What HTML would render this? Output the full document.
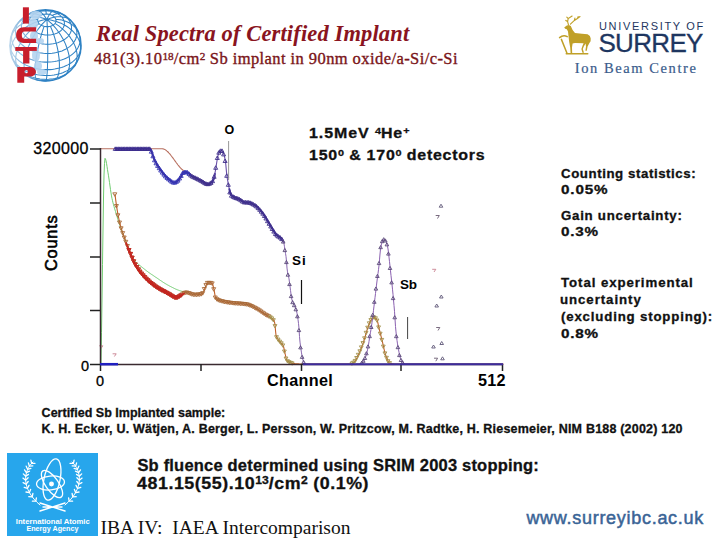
<!DOCTYPE html>
<html><head><meta charset="utf-8">
<style>
html,body{margin:0;padding:0;background:#fff;}
body{width:720px;height:540px;position:relative;overflow:hidden;font-family:"Liberation Sans",sans-serif;}
.a{position:absolute;white-space:nowrap;line-height:1;}
sup{font-size:68%;vertical-align:0;position:relative;top:-0.42em;letter-spacing:0;}
.hv{-webkit-text-stroke:0.3px currentColor;}
#t_url{-webkit-text-stroke:0.5px currentColor;}
#t_ibc{-webkit-text-stroke:0.2px currentColor;}
#t_sub{-webkit-text-stroke:0.35px currentColor;}
</style></head><body>
<!-- ICTP logo -->
<svg class="a" style="left:0;top:0" width="90" height="90" viewBox="0 0 90 90">
  <circle cx="45.5" cy="45.4" r="35.5" fill="none" stroke="#2f82c4" stroke-width="1.6"/>
  <path d="M45.8,80.9 L45.9,80.8 L46.1,80.5 L46.3,80.0 L46.4,79.4 L46.5,78.6 L46.7,77.6 L46.8,76.5 L46.9,75.2 L47.1,73.8 L47.2,72.2 L47.3,70.5 L47.4,68.7 L47.5,66.8 L47.5,64.8 L47.6,62.7 L47.7,60.4 L47.7,58.2 L47.7,55.8 L47.8,53.4 L47.8,51.0 L47.8,48.5 L47.8,46.1 L47.7,43.6 L47.7,41.1 L47.7,38.7 L47.6,36.3 L47.6,33.9 L47.5,31.6 L47.4,29.3 L47.3,27.2 L47.2,25.1 L47.1,23.1 L47.0,21.2 L46.9,19.5 M54.8,79.6 L55.5,79.3 L56.1,78.9 L56.6,78.3 L57.1,77.5 L57.6,76.7 L58.0,75.7 L58.4,74.6 L58.7,73.3 L58.9,72.0 L59.1,70.5 L59.3,69.0 L59.4,67.3 L59.4,65.6 L59.4,63.8 L59.3,61.9 L59.2,59.9 L59.0,57.9 L58.7,55.8 L58.4,53.7 L58.1,51.5 L57.7,49.3 L57.2,47.1 L56.7,44.9 L56.1,42.7 L55.5,40.5 L54.9,38.4 L54.2,36.2 L53.5,34.1 L52.8,32.0 L52.0,30.0 L51.2,28.1 L50.4,26.2 M64.8,75.2 L65.8,74.3 L66.6,73.3 L67.4,72.2 L68.1,70.9 L68.6,69.5 L69.1,68.0 L69.4,66.4 L69.6,64.7 L69.7,62.9 L69.7,61.0 L69.5,59.0 L69.3,57.0 L68.9,54.9 L68.4,52.8 L67.8,50.6 L67.1,48.4 L66.3,46.2 L65.4,43.9 L64.4,41.7 L63.3,39.5 L62.1,37.4 L60.8,35.2 L59.5,33.2 L58.0,31.2 L56.6,29.2 L55.0,27.3 L53.5,25.6 L51.9,23.9 L50.2,22.3 L48.5,20.8 L46.9,19.5 M73.8,66.8 L74.7,65.6 L75.4,64.2 L76.0,62.8 L76.5,61.3 L76.8,59.8 L77.0,58.2 L77.1,56.5 L77.1,54.8 L76.9,53.1 L76.6,51.3 L76.2,49.5 L75.7,47.7 L75.0,45.9 L74.2,44.1 L73.3,42.2 L72.3,40.4 L71.1,38.7 L69.9,36.9 L68.6,35.2 L67.1,33.5 L65.6,31.9 L64.0,30.3 L62.3,28.8 L60.6,27.3 L58.8,25.9 L56.9,24.6 L55.0,23.4 M80.6,50.3 L80.7,48.5 L80.7,46.6 L80.4,44.8 L80.0,43.0 L79.4,41.2 L78.7,39.4 L77.7,37.6 L76.7,35.9 L75.4,34.2 L74.1,32.6 L72.6,31.0 L70.9,29.5 L69.2,28.1 L67.3,26.8 L65.3,25.5 L63.2,24.4 L61.1,23.3 L58.8,22.4 L56.5,21.6 L54.1,20.9 L51.7,20.3 L49.3,19.8 L46.9,19.5 M79.1,33.8 L78.5,32.3 L77.7,30.9 L76.8,29.5 L75.8,28.2 L74.7,27.0 L73.5,25.8 L72.1,24.7 L70.6,23.7 L69.1,22.8 L67.4,22.0 L65.6,21.3 L63.8,20.7 L61.9,20.1 L59.9,19.7 L57.9,19.4 L55.8,19.2 M70.9,20.7 L69.8,19.7 L68.5,18.9 L67.2,18.2 L65.7,17.6 L64.1,17.2 L62.4,16.9 L60.7,16.7 L58.8,16.7 L57.0,16.8 L55.0,17.1 L53.0,17.5 L51.0,18.0 L48.9,18.7 L46.9,19.5 M62.3,14.1 L61.4,13.8 L60.5,13.5 L59.4,13.4 L58.4,13.4 L57.3,13.6 L56.1,13.9 L54.9,14.3 L53.6,14.8 L52.3,15.5 M53.2,10.8 L52.7,11.0 L52.2,11.3 L51.6,11.8 L51.0,12.4 L50.3,13.2 L49.7,14.2 L49.0,15.3 L48.3,16.5 L47.6,17.9 L46.9,19.5 M45.3,9.9 L45.5,10.1 L45.6,10.4 L45.8,10.9 L45.9,11.5 L46.1,12.2 L46.2,13.1 L46.3,14.1 M36.9,11.0 L37.6,10.9 L38.5,11.1 L39.3,11.4 L40.2,11.9 L41.1,12.5 L42.0,13.3 L43.0,14.2 L44.0,15.3 L44.9,16.6 L45.9,18.0 L46.9,19.5 M27.4,14.9 L28.4,14.4 L29.6,14.0 L30.8,13.7 L32.0,13.6 L33.4,13.6 L34.7,13.8 L36.1,14.0 L37.6,14.4 L39.1,14.9 L40.6,15.6 M17.7,23.3 L18.8,22.1 L20.1,21.0 L21.4,20.1 L22.9,19.2 L24.5,18.5 L26.2,17.9 L28.0,17.4 L29.9,17.1 L31.9,16.9 L33.9,16.9 L36.0,17.0 L38.1,17.2 L40.3,17.6 L42.4,18.1 L44.7,18.7 L46.9,19.5 M10.9,37.4 L11.4,35.9 L12.1,34.3 L12.9,32.8 L13.8,31.4 L14.8,30.0 L16.0,28.7 L17.3,27.4 L18.7,26.2 L20.2,25.1 L21.9,24.1 L23.6,23.2 L25.4,22.3 L27.3,21.6 L29.3,20.9 L31.3,20.4 L33.4,19.9 L35.5,19.6 L37.7,19.3 M11.6,56.0 L11.2,54.3 L11.0,52.5 L10.9,50.8 L11.0,49.0 L11.3,47.1 L11.7,45.3 L12.3,43.5 L13.0,41.6 L14.0,39.8 L15.0,38.0 L16.2,36.3 L17.6,34.6 L19.1,33.0 L20.7,31.4 L22.5,29.8 L24.3,28.4 L26.3,27.0 L28.3,25.8 L30.5,24.6 L32.7,23.5 L35.0,22.6 L37.3,21.7 L39.6,21.0 L42.0,20.3 L44.4,19.8 L46.9,19.5 M19.4,69.4 L18.5,68.4 L17.8,67.2 L17.1,66.0 L16.6,64.7 L16.2,63.3 L15.9,61.8 L15.7,60.2 L15.7,58.6 L15.8,57.0 L16.0,55.3 L16.3,53.5 L16.8,51.8 L17.3,50.0 L18.0,48.1 L18.8,46.3 L19.7,44.5 L20.7,42.6 L21.8,40.8 L23.0,39.0 L24.3,37.2 L25.7,35.5 L27.1,33.8 L28.7,32.1 L30.3,30.5 L31.9,29.0 L33.7,27.5 L35.4,26.1 L37.3,24.8 L39.1,23.6 M27.8,76.1 L27.0,75.4 L26.3,74.6 L25.7,73.6 L25.2,72.5 L24.8,71.2 L24.4,69.9 L24.2,68.4 L24.1,66.7 L24.1,65.0 L24.2,63.2 L24.4,61.3 L24.7,59.4 L25.1,57.3 L25.6,55.2 L26.2,53.1 L26.9,50.9 L27.7,48.7 L28.5,46.4 L29.5,44.2 L30.5,42.0 L31.6,39.8 L32.8,37.6 L34.0,35.4 L35.3,33.3 L36.7,31.3 L38.0,29.3 L39.5,27.4 L40.9,25.6 L42.4,23.9 L43.9,22.3 L45.4,20.8 L46.9,19.5 M37.3,79.9 L36.9,79.8 L36.5,79.5 L36.2,79.0 L35.9,78.4 L35.7,77.7 L35.4,76.8 L35.3,75.9 L35.1,74.7 L35.1,73.5 L35.0,72.2 L35.0,70.7 L35.1,69.2 L35.1,67.5 L35.3,65.8 L35.4,63.9 L35.7,62.0 L35.9,60.1 L36.2,58.0 L36.5,55.9 L36.9,53.8 L37.3,51.7 L37.7,49.5 L38.2,47.3 L38.7,45.0 L39.2,42.8 L39.8,40.6 L40.3,38.5 L40.9,36.3 L41.5,34.2 L42.2,32.1 L42.8,30.1 L43.5,28.2 L44.1,26.3 M45.8,80.9 L47.6,80.8 L49.3,80.7 L51.0,80.5 L52.7,80.2 M35.5,79.5 L37.2,79.9 L38.9,80.3 L40.6,80.5 L42.3,80.7 L44.1,80.9 L45.8,80.9 M46.4,79.4 L48.5,79.3 L50.7,79.1 L52.7,78.9 L54.8,78.5 L56.8,78.0 L58.7,77.5 L60.6,76.8 L62.4,76.1 L64.1,75.2 L65.8,74.3 L67.3,73.3 L68.7,72.2 L70.0,71.1 M19.0,69.1 L20.3,70.3 L21.6,71.5 L23.1,72.6 L24.6,73.6 L26.3,74.6 L28.1,75.5 L29.9,76.3 L31.8,77.0 L33.8,77.6 L35.8,78.2 L37.9,78.6 L40.0,79.0 L42.1,79.2 L44.3,79.3 L46.4,79.4 M46.9,75.5 L49.3,75.5 L51.7,75.3 L54.0,75.0 L56.3,74.6 L58.5,74.0 L60.7,73.4 L62.8,72.7 L64.8,71.8 L66.7,70.9 L68.5,69.9 L70.2,68.8 L71.8,67.6 L73.2,66.3 L74.5,65.0 L75.7,63.6 L76.7,62.2 L77.5,60.7 M11.8,56.4 L12.4,58.0 L13.1,59.6 L14.1,61.1 L15.2,62.6 L16.4,64.0 L17.8,65.4 L19.3,66.7 L20.9,68.0 L22.6,69.1 L24.5,70.2 L26.5,71.2 L28.5,72.1 L30.6,72.9 L32.8,73.6 L35.1,74.2 L37.4,74.7 L39.8,75.1 L42.1,75.3 L44.5,75.5 L46.9,75.5 M47.3,69.6 L49.8,69.6 L52.2,69.4 L54.7,69.1 L57.0,68.6 L59.3,68.1 L61.6,67.4 L63.7,66.7 L65.8,65.8 L67.8,64.9 L69.7,63.8 L71.4,62.7 L73.1,61.4 L74.5,60.1 L75.9,58.7 L77.1,57.3 L78.1,55.8 L79.0,54.2 L79.8,52.6 L80.3,51.0 L80.7,49.4 L80.9,47.7 M10.0,44.8 L10.2,46.5 L10.5,48.2 L10.9,49.9 L11.6,51.5 L12.4,53.1 L13.3,54.7 L14.5,56.3 L15.7,57.7 L17.2,59.2 L18.7,60.5 L20.4,61.8 L22.2,63.0 L24.1,64.1 L26.2,65.2 L28.3,66.1 L30.5,66.9 L32.8,67.7 L35.1,68.3 L37.5,68.8 L39.9,69.2 L42.4,69.4 L44.9,69.6 L47.3,69.6 M47.6,62.1 L50.0,62.0 L52.4,61.8 L54.7,61.5 L57.0,61.1 L59.2,60.6 L61.4,60.0 L63.5,59.3 L65.5,58.4 L67.4,57.5 L69.2,56.5 L70.9,55.4 L72.5,54.2 L73.9,52.9 L75.2,51.6 L76.4,50.2 L77.4,48.7 L78.2,47.2 L78.9,45.7 L79.5,44.1 L79.9,42.5 L80.1,40.9 L80.1,39.3 L80.0,37.6 L79.7,36.0 M12.8,31.7 L12.2,33.3 L11.8,34.9 L11.6,36.5 L11.6,38.1 L11.7,39.8 L12.0,41.4 L12.5,43.0 L13.1,44.6 L13.9,46.2 L14.8,47.7 L15.9,49.2 L17.1,50.6 L18.5,52.0 L20.0,53.3 L21.6,54.5 L23.4,55.7 L25.2,56.8 L27.2,57.8 L29.2,58.7 L31.3,59.5 L33.5,60.2 L35.8,60.8 L38.1,61.3 L40.5,61.7 L42.8,61.9 L45.2,62.1 L47.6,62.1 M47.8,53.4 L49.9,53.4 L52.0,53.2 L54.1,52.9 L56.2,52.6 L58.2,52.1 L60.1,51.5 L62.0,50.9 L63.8,50.1 L65.5,49.3 L67.1,48.4 L68.6,47.4 L70.0,46.3 L71.3,45.2 L72.5,44.0 L73.5,42.7 L74.4,41.4 L75.2,40.1 L75.8,38.7 L76.3,37.3 L76.7,35.9 L76.9,34.4 L76.9,32.9 L76.8,31.5 L76.5,30.0 L76.1,28.6 L75.6,27.1 L74.9,25.7 L74.0,24.4 L73.1,23.0 M19.9,20.9 L18.8,22.1 L17.9,23.4 L17.1,24.8 L16.5,26.2 L16.0,27.6 L15.7,29.0 L15.5,30.5 L15.5,31.9 L15.6,33.4 L15.8,34.9 L16.2,36.3 L16.8,37.7 L17.5,39.1 L18.3,40.5 L19.3,41.8 L20.4,43.1 L21.6,44.4 L23.0,45.5 L24.4,46.7 L26.0,47.7 L27.7,48.7 L29.4,49.6 L31.3,50.4 L33.2,51.1 L35.1,51.7 L37.2,52.2 L39.2,52.7 L41.3,53.0 L43.5,53.3 L45.6,53.4 L47.8,53.4 M47.8,44.2 L49.5,44.2 L51.2,44.0 L52.9,43.8 L54.6,43.5 L56.2,43.1 L57.8,42.7 L59.4,42.1 L60.8,41.5 L62.2,40.8 L63.6,40.1 L64.8,39.3 L65.9,38.4 L67.0,37.5 L68.0,36.5 L68.8,35.5 L69.5,34.4 L70.2,33.3 L70.7,32.2 L71.1,31.0 L71.4,29.9 L71.5,28.7 L71.5,27.5 L71.5,26.3 L71.2,25.1 L70.9,23.9 L70.5,22.7 L69.9,21.6 L69.2,20.5 L68.4,19.4 L67.5,18.3 L66.5,17.3 L65.4,16.4 L64.2,15.5 L62.9,14.6 L61.6,13.8 L60.1,13.1 L58.6,12.4 L57.1,11.8 M36.7,11.0 L35.1,11.5 L33.6,12.0 L32.1,12.6 L30.7,13.3 L29.4,14.0 L28.1,14.9 L27.0,15.7 L25.9,16.7 L25.0,17.6 L24.1,18.7 L23.4,19.7 L22.8,20.8 L22.2,21.9 L21.8,23.1 L21.6,24.3 L21.4,25.5 L21.4,26.6 L21.5,27.8 L21.7,29.0 L22.0,30.2 L22.5,31.4 L23.0,32.5 L23.7,33.7 L24.5,34.7 L25.4,35.8 L26.4,36.8 L27.5,37.8 L28.7,38.7 L30.0,39.5 L31.3,40.3 L32.8,41.0 L34.3,41.7 L35.8,42.3 L37.5,42.8 L39.1,43.2 L40.8,43.6 L42.5,43.9 L44.3,44.1 L46.0,44.2 L47.8,44.2 M47.6,35.1 L48.8,35.0 L50.0,34.9 L51.3,34.8 L52.4,34.6 L53.6,34.3 L54.7,34.0 L55.8,33.6 L56.8,33.2 L57.8,32.7 L58.8,32.2 L59.6,31.6 L60.5,31.0 L61.2,30.3 L61.9,29.6 L62.5,28.9 L63.0,28.1 L63.4,27.4 L63.8,26.6 L64.1,25.8 L64.3,24.9 L64.4,24.1 L64.4,23.2 L64.3,22.4 L64.2,21.6 L64.0,20.7 L63.6,19.9 L63.2,19.1 L62.8,18.3 L62.2,17.5 L61.6,16.8 L60.9,16.1 L60.1,15.4 L59.2,14.7 L58.3,14.1 L57.4,13.6 L56.3,13.1 L55.3,12.6 L54.2,12.2 L53.0,11.8 L51.9,11.5 L50.7,11.3 L49.5,11.1 L48.2,10.9 L47.0,10.8 L45.8,10.8 L44.5,10.9 L43.3,11.0 L42.1,11.1 L40.9,11.3 L39.8,11.6 L38.6,11.9 L37.6,12.3 L36.5,12.7 L35.5,13.2 L34.6,13.7 L33.7,14.3 L32.9,14.9 L32.2,15.6 L31.5,16.3 L30.9,17.0 L30.4,17.7 L29.9,18.5 L29.5,19.3 L29.3,20.1 L29.1,21.0 L29.0,21.8 L28.9,22.7 L29.0,23.5 L29.2,24.3 L29.4,25.2 L29.7,26.0 L30.1,26.8 L30.6,27.6 L31.2,28.4 L31.8,29.1 L32.5,29.8 L33.3,30.5 L34.1,31.2 L35.0,31.8 L36.0,32.3 L37.0,32.8 L38.1,33.3 L39.2,33.7 L40.3,34.1 L41.5,34.4 L42.7,34.6 L43.9,34.8 L45.1,35.0 L46.4,35.0 L47.6,35.1 M47.3,26.6 L47.9,26.6 L48.6,26.6 L49.2,26.5 L49.8,26.4 L50.4,26.2 L51.0,26.1 L51.5,25.9 L52.1,25.6 L52.6,25.4 L53.1,25.1 L53.5,24.8 L53.9,24.5 L54.3,24.2 L54.7,23.8 L55.0,23.4 L55.3,23.0 L55.5,22.6 L55.7,22.2 L55.8,21.8 L55.9,21.4 L56.0,20.9 L56.0,20.5 L56.0,20.1 L55.9,19.6 L55.8,19.2 L55.6,18.8 L55.4,18.4 L55.1,17.9 L54.8,17.5 L54.5,17.2 L54.1,16.8 L53.7,16.4 L53.3,16.1 L52.8,15.8 L52.3,15.5 L51.8,15.2 L51.3,15.0 L50.7,14.8 L50.1,14.6 L49.5,14.4 L48.9,14.3 L48.3,14.2 L47.6,14.1 L47.0,14.1 L46.3,14.1 L45.7,14.1 L45.1,14.2 L44.4,14.2 L43.8,14.3 L43.2,14.5 L42.7,14.6 L42.1,14.8 L41.6,15.1 L41.0,15.3 L40.6,15.6 L40.1,15.9 L39.7,16.2 L39.3,16.5 L38.9,16.9 L38.6,17.3 L38.4,17.7 L38.1,18.1 L37.9,18.5 L37.8,18.9 L37.7,19.3 L37.6,19.8 L37.6,20.2 L37.7,20.6 L37.7,21.1 L37.9,21.5 L38.0,21.9 L38.2,22.4 L38.5,22.8 L38.8,23.2 L39.1,23.6 L39.5,23.9 L39.9,24.3 L40.3,24.6 L40.8,24.9 L41.3,25.2 L41.8,25.5 L42.4,25.7 L42.9,25.9 L43.5,26.1 L44.1,26.3 L44.7,26.4 L45.4,26.5 L46.0,26.6 L46.6,26.6 L47.3,26.6" fill="none" stroke="#2f82c4" stroke-width="1.05"/>
  <defs><linearGradient id="fadeL" x1="0" x2="1" y1="0" y2="0"><stop offset="0" stop-color="#fff" stop-opacity="0.7"/><stop offset="1" stop-color="#fff" stop-opacity="0"/></linearGradient></defs>
  <rect x="8" y="8" width="34" height="76" fill="url(#fadeL)"/>
  <g fill="#b4d4f0" opacity="0.9">
    <ellipse cx="36" cy="15" rx="6" ry="4"/>
    <ellipse cx="33" cy="24" rx="5" ry="6"/>
    <ellipse cx="34" cy="36" rx="4" ry="5"/>
    <ellipse cx="40" cy="41" rx="4" ry="3"/>
    <ellipse cx="36" cy="55" rx="4" ry="7"/>
    <ellipse cx="38" cy="66" rx="4" ry="5"/>
    <ellipse cx="42" cy="72" rx="5" ry="3"/>
  </g>
  <g fill="#c81e2c">
    <rect x="22.9" y="7.3" width="6" height="16.3"/>
    <path d="M36.1,27.3 H23.5 C19.3,27.3 16.1,30.5 16.1,35.1 C16.1,39.7 19.3,42.9 23.5,42.9 H36.1 V38.8 H24.5 C22.6,38.8 21.8,37.2 21.8,35.1 C21.8,33 22.6,31.4 24.5,31.4 H36.1 Z"/>
    <rect x="15.3" y="47" width="21.5" height="3.9"/>
    <rect x="23.1" y="47" width="6.3" height="16.5"/>
    <path d="M17.3,66.9 H29.5 C33.3,66.9 35.9,68.9 35.9,71.8 C35.9,74.7 33.3,76.6 29.5,76.6 H24.2 V82.7 H17.3 Z M26.2,69.9 A1.7,1.7 0 1 0 26.21,69.9 Z" fill-rule="evenodd"/>
  </g>
</svg>

<!-- Surrey logo -->
<svg class="a" style="left:555px;top:10px" width="40" height="50" viewBox="555 10 40 50">
  <path d="M564.2,27.6 L566.8,25.6 L568.9,25 L570.8,26 L572.6,30 L575,33 L582,33.8 L587.6,34.2 L589.9,35.9 L590.7,38.5 L590.6,41.2 L589.4,43 L587.6,46.5 L586.8,50.8 L585.4,50.8 L586,46.6 L585.6,43.6 L583.8,46.6 L582.8,48.9 L584,52.8 L582.4,52.8 L581.4,49 L582.6,45.4 L583.6,43.2 L575,43 L572.6,43.4 L572,47.6 L572.2,53 L570.6,53 L570.2,47.6 L569.2,42 L568.6,37 L568,31.4 L566.8,29.2 L565.2,28.8 Z" fill="#c0a028"/>
  <g fill="none" stroke="#c0a028" stroke-width="1.15" stroke-linecap="round">
    <path d="M568.4,24.6 L567.6,21.6 L568.2,18.6 L572.1,16 M567.6,21.6 L565.8,20.4 M568.2,18.6 L566.8,17.2 M570.4,24.2 L574.4,20.4 L577.4,18.6 L580,16.5 M574.4,20.4 L574.9,18.1 M577.4,18.6 L578.1,16.6"/>
    <path d="M559.6,37.6 Q563.3,34.4 567.2,36.6" stroke-width="1.6"/>
    <path d="M561.4,39.4 L567,53.2" stroke-width="1.5"/>
    <path d="M566.2,53.7 L587.8,53.7" stroke-width="1.4"/>
  </g>
</svg>

<!-- Chart -->
<svg class="a" style="left:0;top:0" width="720" height="540" viewBox="0 0 720 540">
  <g fill="none" stroke-linejoin="round" stroke-linecap="round">
    <path d="M100.5,148.8 L101.0,148.8 L101.5,148.8 L102.0,148.8 L102.5,148.8 L103.0,148.8 L103.5,148.8 L104.0,148.8 L104.5,148.8 L105.0,148.8 L105.5,148.8 L106.0,148.8 L106.5,148.8 L107.0,148.8 L107.5,148.8 L108.0,148.8 L108.5,148.8 L109.0,148.8 L109.5,148.8 L110.0,148.8 L110.5,148.8 L111.0,148.8 L111.5,148.8 L112.0,148.8 L112.5,148.8 L113.0,148.8 L113.5,148.8 L114.0,148.8 L114.5,148.8 L115.0,148.8 L115.5,148.8 L116.0,148.8 L116.5,148.8 L117.0,148.8 L117.5,148.8 L118.0,148.8 L118.5,148.8 L119.0,148.8 L119.5,148.8 L120.0,148.8 L120.5,148.8 L121.0,148.8 L121.5,148.8 L122.0,148.8 L122.5,148.8 L123.0,148.8 L123.5,148.8 L124.0,148.8 L124.5,148.8 L125.0,148.8 L125.5,148.8 L126.0,148.8 L126.5,148.8 L127.0,148.8 L127.5,148.8 L128.0,148.8 L128.5,148.8 L129.0,148.8 L129.5,148.8 L130.0,148.8 L130.5,148.8 L131.0,148.8 L131.5,148.8 L132.0,148.8 L132.5,148.8 L133.0,148.8 L133.5,148.8 L134.0,148.8 L134.5,148.8 L135.0,148.8 L135.5,148.8 L136.0,148.8 L136.5,148.8 L137.0,148.8 L137.5,148.8 L138.0,148.8 L138.5,148.8 L139.0,148.8 L139.5,148.8 L140.0,148.8 L140.5,148.8 L141.0,148.8 L141.5,148.8 L142.0,148.8 L142.5,148.8 L143.0,148.8 L143.5,148.8 L144.0,148.8 L144.5,148.8 L145.0,148.8 L145.5,148.8 L146.0,148.8 L146.5,148.8 L147.0,148.8 L147.5,148.8 L148.0,148.8 L148.5,148.8 L149.0,148.8 L149.5,148.8 L150.0,148.8 L150.5,148.8 L151.0,148.8 L151.5,148.8 L152.0,148.8 L152.5,148.8 L153.0,148.8 L153.5,148.8 L154.0,148.8 L154.5,148.8 L155.0,148.8 L155.5,148.8 L156.0,148.8 L156.5,148.8 L157.0,148.8 L157.5,148.8 L158.0,148.8 L158.5,148.8 L159.0,148.8 L159.5,148.8 L160.0,148.8 L160.5,148.8 L161.0,148.8 L161.5,148.8 L162.0,148.8 L162.5,148.8 L163.0,148.9 L163.5,149.0 L164.0,149.1 L164.5,149.4 L165.0,149.6 L165.5,149.9 L166.0,150.3 L166.5,150.6 L167.0,151.1 L167.5,151.5 L168.0,152.0 L168.5,152.5 L169.0,153.1 L169.5,153.6 L170.0,154.2 L170.5,154.8 L171.0,155.5 L171.5,156.1 L172.0,156.8 L172.5,157.4 L173.0,158.1 L173.5,158.8 L174.0,159.5 L174.5,160.2 L175.0,160.9 L175.5,161.6 L176.0,162.3 L176.5,163.0 L177.0,163.6 L177.5,164.3 L178.0,165.0 L178.5,165.6 L179.0,166.2 L179.5,166.8 L180.0,167.4 L180.5,167.9 L181.0,168.5 L181.5,169.0 L182.0,169.4 L182.5,169.8 L183.0,170.2 L183.5,170.6 L184.0,170.9 L184.5,171.2 L185.0,171.5 L185.5,171.7 L186.0,172.0" stroke="#b87060" stroke-width="1.1"/>
    <path d="M101.0,364.0 L101.5,332.7 L102.0,300.0 L102.5,264.3 L103.0,230.0 L103.5,198.0 L104.0,175.0 L104.5,163.4 L105.0,158.3 L105.5,159.0 L106.0,160.7 L106.5,163.3 L107.0,166.4 L107.5,169.7 L108.0,172.8 L108.5,175.8 L109.0,179.0 L109.5,182.5 L110.0,186.0 L110.5,189.6 L111.0,192.9 L111.5,195.9 L112.0,198.5 L112.5,200.7 L113.0,202.8 L113.5,204.7 L114.0,206.5 L114.5,208.2 L115.0,209.9 L115.5,211.5 L116.0,213.2 L116.5,214.8 L117.0,216.4 L117.5,218.1 L118.0,219.7 L118.5,221.2 L119.0,222.8 L119.5,224.3 L120.0,225.8 L120.5,227.3 L121.0,228.7 L121.5,230.1 L122.0,231.5 L122.5,232.9 L123.0,234.2 L123.5,235.5 L124.0,236.7 L124.5,237.9 L125.0,239.2 L125.5,240.4 L126.0,241.6 L126.5,242.8 L127.0,244.0 L127.5,245.2 L128.0,246.5 L128.5,247.7 L129.0,249.1 L129.5,250.5 L130.0,252.0 L130.5,253.5 L131.0,254.9 L131.5,256.1 L132.0,257.0 L132.5,257.8 L133.0,258.5 L133.5,259.2 L134.0,259.8 L134.5,260.4 L135.0,261.0 L135.5,261.6 L136.0,262.1 L136.5,262.6 L137.0,263.1 L137.5,263.5 L138.0,264.0 L138.5,264.4 L139.0,264.8 L139.5,265.2 L140.0,265.6 L140.5,266.0 L141.0,266.4 L141.5,266.8 L142.0,267.2 L142.5,267.6 L143.0,268.0 L143.5,268.4 L144.0,268.8 L144.5,269.2 L145.0,269.6 L145.5,270.0 L146.0,270.4 L146.5,270.8 L147.0,271.2 L147.5,271.5 L148.0,271.9 L148.5,272.3 L149.0,272.6 L149.5,273.0 L150.0,273.3 L150.5,273.7 L151.0,274.0 L151.5,274.4 L152.0,274.7 L152.5,275.0 L153.0,275.4 L153.5,275.7 L154.0,276.1 L154.5,276.4 L155.0,276.7 L155.5,277.1 L156.0,277.4 L156.5,277.7 L157.0,278.1 L157.5,278.4 L158.0,278.8 L158.5,279.1 L159.0,279.5 L159.5,279.8 L160.0,280.1 L160.5,280.5 L161.0,280.8 L161.5,281.1 L162.0,281.5 L162.5,281.8 L163.0,282.1 L163.5,282.5 L164.0,282.8 L164.5,283.1 L165.0,283.4 L165.5,283.7 L166.0,284.0 L166.5,284.3 L167.0,284.6 L167.5,284.9 L168.0,285.2 L168.5,285.4 L169.0,285.7 L169.5,286.0 L170.0,286.2 L170.5,286.5 L171.0,286.7 L171.5,287.0 L172.0,287.2 L172.5,287.5 L173.0,287.8 L173.5,288.0 L174.0,288.2 L174.5,288.5 L175.0,288.7 L175.5,289.0 L176.0,289.2 L176.5,289.4 L177.0,289.6 L177.5,289.8 L178.0,290.0 L178.5,290.2 L179.0,290.4 L179.5,290.6 L180.0,290.7 L180.5,290.9 L181.0,291.0 L181.5,291.2 L182.0,291.3 L182.5,291.4 L183.0,291.5 L183.5,291.6 L184.0,291.7 L184.5,291.8 L185.0,291.9 L185.5,291.9 L186.0,292.0" stroke="#70cc70" stroke-width="1"/>
    <path d="M115.0,194.4 L115.5,198.4 L116.0,202.1 L116.5,205.6 L117.0,208.8 L117.5,211.9 L118.0,214.7 L118.5,217.2 L119.0,219.5 L119.5,221.7 L120.0,223.7 L120.5,225.7 L121.0,227.5 L121.5,229.1 L122.0,230.7 L122.5,232.2 L123.0,233.7 L123.5,235.1 L124.0,236.4 L124.5,237.8 L125.0,239.2 L125.5,240.6 L126.0,241.9 L126.5,243.3 L127.0,244.6 L127.5,245.9 L128.0,247.2 L128.5,248.5 L129.0,249.8 L129.5,251.0 L130.0,252.2 L130.5,253.5 L131.0,254.7 L131.5,255.9 L132.0,257.1 L132.5,258.3 L133.0,259.5 L133.5,260.6 L134.0,261.7 L134.5,262.8 L135.0,263.7 L135.5,264.7 L136.0,265.5 L136.5,266.3 L137.0,267.1 L137.5,267.9 L138.0,268.7 L138.5,269.4 L139.0,270.1 L139.5,270.8 L140.0,271.5 L140.5,272.2 L141.0,272.8 L141.5,273.4 L142.0,274.0 L142.5,274.6 L143.0,275.2 L143.5,275.8 L144.0,276.3 L144.5,276.9 L145.0,277.4 L145.5,277.9 L146.0,278.4 L146.5,278.9 L147.0,279.4 L147.5,279.9 L148.0,280.3 L148.5,280.8 L149.0,281.3 L149.5,281.7 L150.0,282.1 L150.5,282.5 L151.0,283.0 L151.5,283.4 L152.0,283.8 L152.5,284.2 L153.0,284.5 L153.5,284.9 L154.0,285.3 L154.5,285.7 L155.0,286.0 L155.5,286.4 L156.0,286.7 L156.5,287.0 L157.0,287.4 L157.5,287.7 L158.0,288.0 L158.5,288.3 L159.0,288.6 L159.5,288.9 L160.0,289.2 L160.5,289.5 L161.0,289.8 L161.5,290.0 L162.0,290.3 L162.5,290.6 L163.0,290.9 L163.5,291.1 L164.0,291.4 L164.5,291.7 L165.0,291.9 L165.5,292.2 L166.0,292.4 L166.5,292.7 L167.0,293.0 L167.5,293.2 L168.0,293.5 L168.5,293.7 L169.0,294.0 L169.5,294.3 L170.0,294.6 L170.5,294.9 L171.0,295.2 L171.5,295.6 L172.0,295.9 L172.5,296.2 L173.0,296.6 L173.5,296.8 L174.0,297.1 L174.5,297.3 L175.0,297.5 L175.5,297.7 L176.0,297.8 L176.5,297.8 L177.0,297.7 L177.5,297.6 L178.0,297.3 L178.5,297.1 L179.0,296.7 L179.5,296.4 L180.0,296.1 L180.5,295.8 L181.0,295.5 L181.5,295.2 L182.0,294.8 L182.5,294.4 L183.0,294.0 L183.5,293.6 L184.0,293.3 L184.5,293.0 L185.0,292.8 L185.5,292.7 L186.0,292.6 L186.5,292.6 L187.0,292.7 L187.5,292.8 L188.0,292.9 L188.5,293.0 L189.0,293.2 L189.5,293.4 L190.0,293.6 L190.5,293.7 L191.0,293.9 L191.5,294.1 L192.0,294.3 L192.5,294.4 L193.0,294.6 L193.5,294.7 L194.0,294.7 L194.5,294.8 L195.0,294.8 L195.5,294.8 L196.0,294.8 L196.5,294.8 L197.0,294.7 L197.5,294.7 L198.0,294.7 L198.5,294.6 L199.0,294.6 L199.5,294.5 L200.0,294.4 L200.5,294.3 L201.0,294.3 L201.5,294.2 L202.0,294.0 L202.5,293.8 L203.0,293.1 L203.5,291.9 L204.0,290.6 L204.5,289.1 L205.0,287.8 L205.5,286.7 L206.0,285.4 L206.5,284.2 L207.0,283.3 L207.5,283.0 L208.0,283.0 L208.5,283.0 L209.0,283.0 L209.5,283.0 L210.0,283.0 L210.5,283.0 L211.0,283.0 L211.5,283.0 L212.0,283.0 L212.5,283.8 L213.0,285.5 L213.5,287.5 L214.0,289.6 L214.5,292.3 L215.0,295.4 L215.5,297.6 L216.0,298.3 L216.5,298.8 L217.0,299.3 L217.5,299.6 L218.0,299.9 L218.5,300.2 L219.0,300.4 L219.5,300.5 L220.0,300.7 L220.5,300.9 L221.0,301.0 L221.5,301.2 L222.0,301.3 L222.5,301.4 L223.0,301.5 L223.5,301.7 L224.0,301.8 L224.5,301.9 L225.0,302.0 L225.5,302.1 L226.0,302.2 L226.5,302.2 L227.0,302.3 L227.5,302.4 L228.0,302.5 L228.5,302.5 L229.0,302.6 L229.5,302.7 L230.0,302.8 L230.5,302.8 L231.0,302.9 L231.5,302.9 L232.0,303.0 L232.5,303.1 L233.0,303.1 L233.5,303.2 L234.0,303.2 L234.5,303.3 L235.0,303.3 L235.5,303.4 L236.0,303.4 L236.5,303.4 L237.0,303.5 L237.5,303.5 L238.0,303.5 L238.5,303.6 L239.0,303.6 L239.5,303.7 L240.0,303.7 L240.5,303.7 L241.0,303.8 L241.5,303.8 L242.0,303.8 L242.5,303.9 L243.0,303.9 L243.5,304.0 L244.0,304.0 L244.5,304.1 L245.0,304.2 L245.5,304.2 L246.0,304.3 L246.5,304.4 L247.0,304.5 L247.5,304.6 L248.0,304.7 L248.5,304.8 L249.0,305.0 L249.5,305.2 L250.0,305.4 L250.5,305.6 L251.0,305.8 L251.5,306.0 L252.0,306.3 L252.5,306.5 L253.0,306.8 L253.5,307.0 L254.0,307.3 L254.5,307.6 L255.0,307.8 L255.5,308.1 L256.0,308.4 L256.5,308.6 L257.0,308.9 L257.5,309.2 L258.0,309.5 L258.5,309.8 L259.0,310.1 L259.5,310.4 L260.0,310.7 L260.5,311.1 L261.0,311.4 L261.5,311.8 L262.0,312.1 L262.5,312.5 L263.0,312.8 L263.5,313.2 L264.0,313.5 L264.5,313.9 L265.0,314.2 L265.5,314.5 L266.0,314.8 L266.5,315.1 L267.0,315.4 L267.5,315.6 L268.0,315.9 L268.5,316.1 L269.0,316.4 L269.5,316.7 L270.0,317.0 L270.5,317.3 L271.0,317.6 L271.5,318.0 L272.0,318.4 L272.5,318.9 L273.0,319.4 L273.5,320.1 L274.0,320.9 L274.5,322.1 L275.0,324.3 L275.5,330.5 L276.0,335.2 L276.5,336.6 L277.0,337.7 L277.5,338.6 L278.0,339.3 L278.5,339.8 L279.0,340.4 L279.5,341.1 L280.0,341.7 L280.5,342.3 L281.0,342.8 L281.5,343.3 L282.0,343.9 L282.5,344.6 L283.0,345.4 L283.5,346.5 L284.0,348.5 L284.5,351.0 L285.0,353.3 L285.5,355.5 L286.0,357.9 L286.5,359.7 L287.0,360.6 L287.5,361.0 L288.0,361.4 L288.5,361.8 L289.0,362.1 L289.5,362.3 L290.0,362.6 L290.5,362.8 L291.0,363.0 L291.5,363.1 L292.0,363.3 L292.5,363.4 L293.0,363.5 L293.5,363.5 L294.0,363.6 L294.5,363.6 L295.0,363.7 L295.5,363.7 L296.0,363.8 L296.5,363.8 L297.0,363.8 L297.5,363.9 L298.0,363.9 L298.5,363.9 L299.0,364.0 L299.5,364.0 L300.0,364.0 L300.5,364.0 L301.0,364.0 L301.5,364.0 L302.0,364.0 L302.5,364.0 L303.0,364.0 L303.5,364.0 L304.0,364.0 L304.5,364.0 L305.0,364.0 L305.5,364.0 L306.0,364.0 L306.5,364.0 L307.0,364.0 L307.5,364.0 L308.0,364.0 L308.5,364.0 L309.0,364.0 L309.5,364.0 L310.0,364.0 L310.5,364.0 L311.0,364.0 L311.5,364.0 L312.0,364.0 L312.5,364.0 L313.0,364.0 L313.5,364.0 L314.0,364.0 L314.5,364.0 L315.0,364.0 L315.5,364.0 L316.0,364.0 L316.5,364.0 L317.0,364.0 L317.5,364.0 L318.0,364.0 L318.5,364.0 L319.0,364.0 L319.5,364.0 L320.0,364.0 L320.5,364.0 L321.0,364.0 L321.5,364.0 L322.0,364.0 L322.5,364.0 L323.0,364.0 L323.5,364.0 L324.0,364.0 L324.5,364.0 L325.0,364.0 L325.5,364.0 L326.0,364.0 L326.5,364.0 L327.0,364.0 L327.5,364.0 L328.0,364.0 L328.5,364.0 L329.0,364.0 L329.5,364.0 L330.0,364.0 L330.5,364.0 L331.0,364.0 L331.5,364.0 L332.0,364.0 L332.5,364.0 L333.0,364.0 L333.5,364.0 L334.0,364.0 L334.5,364.0 L335.0,364.0 L335.5,364.0 L336.0,364.0 L336.5,364.0 L337.0,364.0 L337.5,364.0 L338.0,364.0 L338.5,364.0 L339.0,364.0 L339.5,364.0 L340.0,364.0 L340.5,364.0 L341.0,364.0 L341.5,364.0 L342.0,364.0 L342.5,364.0 L343.0,364.0 L343.5,364.0 L344.0,364.0 L344.5,364.0 L345.0,364.0 L345.5,364.0 L346.0,364.0 L346.5,364.0 L347.0,364.0 L347.5,364.0 L348.0,364.0 L348.5,364.0 L349.0,364.0 L349.5,364.0 L350.0,364.0 L350.5,364.0 L351.0,363.9 L351.5,363.7 L352.0,363.5 L352.5,363.3 L353.0,363.0 L353.5,362.7 L354.0,362.4 L354.5,362.0 L355.0,361.3 L355.5,360.6 L356.0,359.7 L356.5,358.7 L357.0,357.7 L357.5,356.6 L358.0,355.6 L358.5,354.6 L359.0,353.5 L359.5,352.4 L360.0,351.2 L360.5,350.0 L361.0,348.8 L361.5,347.5 L362.0,346.1 L362.5,344.8 L363.0,343.4 L363.5,342.0 L364.0,340.5 L364.5,338.9 L365.0,337.2 L365.5,335.4 L366.0,333.7 L366.5,331.9 L367.0,330.2 L367.5,328.7 L368.0,327.2 L368.5,325.8 L369.0,324.4 L369.5,323.0 L370.0,321.8 L370.5,320.8 L371.0,320.0 L371.5,319.4 L372.0,318.8 L372.5,318.2 L373.0,317.8 L373.5,317.5 L374.0,317.4 L374.5,317.5 L375.0,317.7 L375.5,318.1 L376.0,318.7 L376.5,319.3 L377.0,320.0 L377.5,321.4 L378.0,323.5 L378.5,326.0 L379.0,328.2 L379.5,330.2 L380.0,332.2 L380.5,334.2 L381.0,336.1 L381.5,338.1 L382.0,340.1 L382.5,342.1 L383.0,344.3 L383.5,346.5 L384.0,348.8 L384.5,351.0 L385.0,353.0 L385.5,354.8 L386.0,356.1 L386.5,357.4 L387.0,358.6 L387.5,359.7 L388.0,360.8 L388.5,361.7 L389.0,362.4 L389.5,362.9 L390.0,363.2 L390.5,363.3 L391.0,363.5 L391.5,363.6 L392.0,363.7 L392.5,363.8 L393.0,363.9 L393.5,363.9 L394.0,364.0 L394.5,364.0 L395.0,364.0 L395.5,364.0 L396.0,364.0 L396.5,364.0 L397.0,364.0 L397.5,364.0 L398.0,364.0 L398.5,364.0 L399.0,364.0 L399.5,364.0 L400.0,364.0 L400.5,364.0 L401.0,364.0 L401.5,364.0 L402.0,364.0 L402.5,364.0 L403.0,364.0 L403.5,364.0 L404.0,364.0 L404.5,364.0 L405.0,364.0 L405.5,364.0 L406.0,364.0 L406.5,364.0 L407.0,364.0 L407.5,364.0 L408.0,364.0 L408.5,364.0 L409.0,364.0 L409.5,364.0 L410.0,364.0 L410.5,364.0 L411.0,364.0 L411.5,364.0 L412.0,364.0 L412.5,364.0 L413.0,364.0 L413.5,364.0 L414.0,364.0 L414.5,364.0 L415.0,364.0 L415.5,364.0 L416.0,364.0 L416.5,364.0 L417.0,364.0 L417.5,364.0 L418.0,364.0 L418.5,364.0 L419.0,364.0 L419.5,364.0 L420.0,364.0 L420.5,364.0 L421.0,364.0 L421.5,364.0 L422.0,364.0 L422.5,364.0 L423.0,364.0 L423.5,364.0 L424.0,364.0 L424.5,364.0 L425.0,364.0 L425.5,364.0 L426.0,364.0 L426.5,364.0 L427.0,364.0 L427.5,364.0 L428.0,364.0 L428.5,364.0 L429.0,364.0 L429.5,364.0 L430.0,364.0 L430.5,364.0 L431.0,364.0 L431.5,364.0 L432.0,364.0 L432.5,364.0 L433.0,364.0 L433.5,364.0 L434.0,364.0 L434.5,364.0 L435.0,364.0 L435.5,364.0 L436.0,364.0 L436.5,364.0 L437.0,364.0 L437.5,364.0 L438.0,364.0 L438.5,364.0 L439.0,364.0 L439.5,364.0 L440.0,364.0 L440.5,364.0 L441.0,364.0 L441.5,364.0 L442.0,364.0 L442.5,364.0 L443.0,364.0 L443.5,364.0 L444.0,364.0 L444.5,364.0 L445.0,364.0 L445.5,364.0 L446.0,364.0 L446.5,364.0 L447.0,364.0 L447.5,364.0 L448.0,364.0 L448.5,364.0 L449.0,364.0 L449.5,364.0 L450.0,364.0 L450.5,364.0 L451.0,364.0 L451.5,364.0 L452.0,364.0 L452.5,364.0 L453.0,364.0 L453.5,364.0 L454.0,364.0 L454.5,364.0 L455.0,364.0 L455.5,364.0 L456.0,364.0 L456.5,364.0 L457.0,364.0 L457.5,364.0 L458.0,364.0 L458.5,364.0 L459.0,364.0 L459.5,364.0 L460.0,364.0 L460.5,364.0 L461.0,364.0 L461.5,364.0 L462.0,364.0 L462.5,364.0 L463.0,364.0 L463.5,364.0 L464.0,364.0 L464.5,364.0 L465.0,364.0 L465.5,364.0 L466.0,364.0 L466.5,364.0 L467.0,364.0 L467.5,364.0 L468.0,364.0 L468.5,364.0 L469.0,364.0 L469.5,364.0 L470.0,364.0 L470.5,364.0 L471.0,364.0 L471.5,364.0 L472.0,364.0 L472.5,364.0 L473.0,364.0 L473.5,364.0 L474.0,364.0 L474.5,364.0 L475.0,364.0 L475.5,364.0 L476.0,364.0 L476.5,364.0 L477.0,364.0 L477.5,364.0 L478.0,364.0 L478.5,364.0 L479.0,364.0 L479.5,364.0 L480.0,364.0 L480.5,364.0 L481.0,364.0 L481.5,364.0 L482.0,364.0 L482.5,364.0 L483.0,364.0 L483.5,364.0 L484.0,364.0 L484.5,364.0 L485.0,364.0 L485.5,364.0 L486.0,364.0 L486.5,364.0 L487.0,364.0 L487.5,364.0 L488.0,364.0 L488.5,364.0 L489.0,364.0 L489.5,364.0 L490.0,364.0 L490.5,364.0 L491.0,364.0 L491.5,364.0 L492.0,364.0 L492.5,364.0 L493.0,364.0 L493.5,364.0 L494.0,364.0 L494.5,364.0 L495.0,364.0 L495.5,364.0 L496.0,364.0 L496.5,364.0 L497.0,364.0 L497.5,364.0 L498.0,364.0 L498.5,364.0 L499.0,364.0 L499.5,364.0 L500.0,364.0 L500.5,364.0 L501.0,364.0 L501.5,364.0 L502.0,364.0 L502.5,364.0 L503.0,364.0" stroke="#c0602a" stroke-width="1.1"/>
    <path d="M113.2,192.8h3.6l-1.8,3.2zM114.8,204.5h3.6l-1.8,3.2zM116.3,213.8h3.6l-1.8,3.2zM117.9,221.0h3.6l-1.8,3.2zM119.5,226.8h3.6l-1.8,3.2zM121.1,231.6h3.6l-1.8,3.2zM122.6,236.0h3.6l-1.8,3.2zM124.2,240.3h3.6l-1.8,3.2zM125.8,244.5h3.6l-1.8,3.2zM127.3,248.5h3.6l-1.8,3.2zM128.9,252.4h3.6l-1.8,3.2zM130.5,256.2h3.6l-1.8,3.2zM132.0,259.8h3.6l-1.8,3.2zM133.6,262.9h3.6l-1.8,3.2zM135.2,265.5h3.6l-1.8,3.2zM136.8,267.9h3.6l-1.8,3.2zM138.3,270.1h3.6l-1.8,3.2zM139.9,272.1h3.6l-1.8,3.2zM141.5,273.9h3.6l-1.8,3.2zM143.0,275.6h3.6l-1.8,3.2zM144.6,277.2h3.6l-1.8,3.2zM146.2,278.7h3.6l-1.8,3.2zM147.7,280.1h3.6l-1.8,3.2zM149.3,281.5h3.6l-1.8,3.2zM150.9,282.7h3.6l-1.8,3.2zM152.5,283.9h3.6l-1.8,3.2zM154.0,285.0h3.6l-1.8,3.2zM155.6,286.0h3.6l-1.8,3.2zM157.2,287.0h3.6l-1.8,3.2zM158.7,287.9h3.6l-1.8,3.2zM160.3,288.8h3.6l-1.8,3.2zM161.9,289.6h3.6l-1.8,3.2zM163.4,290.4h3.6l-1.8,3.2zM165.0,291.3h3.6l-1.8,3.2zM166.6,292.1h3.6l-1.8,3.2zM168.2,293.0h3.6l-1.8,3.2zM169.7,294.0h3.6l-1.8,3.2zM171.3,295.0h3.6l-1.8,3.2zM172.9,295.8h3.6l-1.8,3.2zM174.4,296.2h3.6l-1.8,3.2zM176.0,295.8h3.6l-1.8,3.2zM177.6,294.9h3.6l-1.8,3.2zM179.2,293.9h3.6l-1.8,3.2zM180.7,292.8h3.6l-1.8,3.2zM182.3,291.6h3.6l-1.8,3.2zM183.9,291.0h3.6l-1.8,3.2zM185.4,291.1h3.6l-1.8,3.2zM187.0,291.5h3.6l-1.8,3.2zM188.6,292.1h3.6l-1.8,3.2zM190.1,292.7h3.6l-1.8,3.2zM191.7,293.1h3.6l-1.8,3.2zM193.3,293.2h3.6l-1.8,3.2zM194.9,293.2h3.6l-1.8,3.2zM196.4,293.0h3.6l-1.8,3.2zM198.0,292.9h3.6l-1.8,3.2zM199.6,292.6h3.6l-1.8,3.2zM201.1,291.6h3.6l-1.8,3.2zM202.7,287.5h3.6l-1.8,3.2zM204.3,283.6h3.6l-1.8,3.2zM205.8,281.4h3.6l-1.8,3.2zM207.4,281.4h3.6l-1.8,3.2zM209.0,281.4h3.6l-1.8,3.2zM210.6,281.9h3.6l-1.8,3.2zM212.1,287.7h3.6l-1.8,3.2zM213.7,296.0h3.6l-1.8,3.2zM215.3,297.7h3.6l-1.8,3.2zM216.8,298.6h3.6l-1.8,3.2zM218.4,299.2h3.6l-1.8,3.2zM220.0,299.6h3.6l-1.8,3.2zM221.6,300.0h3.6l-1.8,3.2zM223.1,300.4h3.6l-1.8,3.2zM224.7,300.6h3.6l-1.8,3.2zM226.3,300.9h3.6l-1.8,3.2zM227.8,301.1h3.6l-1.8,3.2zM229.4,301.3h3.6l-1.8,3.2zM231.0,301.5h3.6l-1.8,3.2zM232.5,301.7h3.6l-1.8,3.2zM234.1,301.8h3.6l-1.8,3.2zM235.7,301.9h3.6l-1.8,3.2zM237.3,302.0h3.6l-1.8,3.2zM238.8,302.1h3.6l-1.8,3.2zM240.4,302.3h3.6l-1.8,3.2zM242.0,302.4h3.6l-1.8,3.2zM243.5,302.6h3.6l-1.8,3.2zM245.1,302.8h3.6l-1.8,3.2zM246.7,303.2h3.6l-1.8,3.2zM248.2,303.8h3.6l-1.8,3.2zM249.8,304.5h3.6l-1.8,3.2zM251.4,305.3h3.6l-1.8,3.2zM253.0,306.1h3.6l-1.8,3.2zM254.5,306.9h3.6l-1.8,3.2zM256.1,307.8h3.6l-1.8,3.2zM257.7,308.8h3.6l-1.8,3.2zM259.2,309.9h3.6l-1.8,3.2zM260.8,311.0h3.6l-1.8,3.2zM262.4,312.0h3.6l-1.8,3.2zM263.9,313.1h3.6l-1.8,3.2zM265.5,313.9h3.6l-1.8,3.2zM267.1,314.7h3.6l-1.8,3.2z" stroke="#a86a38" stroke-width="0.9"/>
    <path d="M268.8,315.8h3.4l-1.7,3.0zM270.3,316.9h3.4l-1.7,3.0zM271.9,318.7h3.4l-1.7,3.0zM273.5,324.6h3.4l-1.7,3.0zM275.0,335.7h3.4l-1.7,3.0zM276.6,338.1h3.4l-1.7,3.0zM278.2,340.1h3.4l-1.7,3.0zM279.8,341.8h3.4l-1.7,3.0zM281.3,343.9h3.4l-1.7,3.0zM282.9,350.0h3.4l-1.7,3.0zM284.5,357.0h3.4l-1.7,3.0zM286.0,359.7h3.4l-1.7,3.0zM287.6,360.7h3.4l-1.7,3.0zM289.2,361.4h3.4l-1.7,3.0zM290.7,361.9h3.4l-1.7,3.0zM350.4,362.0h3.4l-1.7,3.0zM352.0,361.1h3.4l-1.7,3.0zM353.6,359.4h3.4l-1.7,3.0zM355.1,356.5h3.4l-1.7,3.0zM356.7,353.3h3.4l-1.7,3.0zM358.3,349.8h3.4l-1.7,3.0zM359.8,345.9h3.4l-1.7,3.0zM361.4,341.6h3.4l-1.7,3.0zM363.0,336.8h3.4l-1.7,3.0zM364.6,331.3h3.4l-1.7,3.0zM366.1,326.2h3.4l-1.7,3.0zM367.7,321.8h3.4l-1.7,3.0zM369.3,318.6h3.4l-1.7,3.0zM370.8,316.7h3.4l-1.7,3.0zM372.4,315.9h3.4l-1.7,3.0zM374.0,316.8h3.4l-1.7,3.0zM375.5,319.0h3.4l-1.7,3.0zM377.1,325.9h3.4l-1.7,3.0zM378.7,332.2h3.4l-1.7,3.0zM380.3,338.4h3.4l-1.7,3.0zM381.8,345.1h3.4l-1.7,3.0zM383.4,351.9h3.4l-1.7,3.0zM385.0,356.3h3.4l-1.7,3.0zM386.5,359.7h3.4l-1.7,3.0zM388.1,361.6h3.4l-1.7,3.0z" stroke="#a09048" stroke-width="0.9"/>
    <path d="M126.0,243.0 L126.5,244.1 L127.0,245.3 L127.5,246.4 L128.0,247.6 L128.5,248.7 L129.0,249.9 L129.5,251.0 L130.0,252.2 L130.5,253.3 L131.0,254.6 L131.5,255.8 L132.0,257.0 L132.5,258.2 L133.0,259.4 L133.5,260.5 L134.0,261.7 L134.5,262.7 L135.0,263.7 L135.5,264.7 L136.0,265.5 L136.5,266.3 L137.0,267.1 L137.5,267.9 L138.0,268.7 L138.5,269.4 L139.0,270.1 L139.5,270.8 L140.0,271.5 L140.5,272.2 L141.0,272.8 L141.5,273.4 L142.0,274.0 L142.5,274.6 L143.0,275.2 L143.5,275.8 L144.0,276.3 L144.5,276.9 L145.0,277.4 L145.5,277.9 L146.0,278.4 L146.5,278.9 L147.0,279.4 L147.5,279.9 L148.0,280.3 L148.5,280.8 L149.0,281.3 L149.5,281.7 L150.0,282.1 L150.5,282.5 L151.0,283.0 L151.5,283.4 L152.0,283.8 L152.5,284.2 L153.0,284.5 L153.5,284.9 L154.0,285.3 L154.5,285.7 L155.0,286.0 L155.5,286.4 L156.0,286.7 L156.5,287.0 L157.0,287.4 L157.5,287.7 L158.0,288.0 L158.5,288.3 L159.0,288.6 L159.5,288.9 L160.0,289.2 L160.5,289.5 L161.0,289.8 L161.5,290.0 L162.0,290.3 L162.5,290.6 L163.0,290.9 L163.5,291.1 L164.0,291.4 L164.5,291.7 L165.0,291.9 L165.5,292.2 L166.0,292.4 L166.5,292.7 L167.0,293.0 L167.5,293.2 L168.0,293.5 L168.5,293.7 L169.0,294.0 L169.5,294.3 L170.0,294.6 L170.5,294.9 L171.0,295.2 L171.5,295.6 L172.0,295.9 L172.5,296.2 L173.0,296.6 L173.5,296.8 L174.0,297.1 L174.5,297.3 L175.0,297.5 L175.5,297.7 L176.0,297.8 L176.5,297.8 L177.0,297.7 L177.5,297.6 L178.0,297.4 L178.5,297.1 L179.0,296.8 L179.5,296.4 L180.0,296.1 L180.5,295.8 L181.0,295.5 L181.5,295.2 L182.0,294.9 L182.5,294.6 L183.0,294.2 L183.5,293.9 L184.0,293.5" stroke="#c82820" stroke-width="1.8"/>
    <path d="M127.3,248.5h3.6l-1.8,3.2zM128.9,252.4h3.6l-1.8,3.2zM130.5,256.2h3.6l-1.8,3.2zM132.0,259.8h3.6l-1.8,3.2zM133.6,262.9h3.6l-1.8,3.2zM135.2,265.5h3.6l-1.8,3.2zM136.8,267.9h3.6l-1.8,3.2zM138.3,270.1h3.6l-1.8,3.2zM139.9,272.1h3.6l-1.8,3.2zM141.5,273.9h3.6l-1.8,3.2zM143.0,275.6h3.6l-1.8,3.2zM144.6,277.2h3.6l-1.8,3.2zM146.2,278.7h3.6l-1.8,3.2zM147.7,280.1h3.6l-1.8,3.2zM149.3,281.5h3.6l-1.8,3.2zM150.9,282.7h3.6l-1.8,3.2zM152.5,283.9h3.6l-1.8,3.2zM154.0,285.0h3.6l-1.8,3.2zM155.6,286.0h3.6l-1.8,3.2zM157.2,287.0h3.6l-1.8,3.2zM158.7,287.9h3.6l-1.8,3.2zM160.3,288.8h3.6l-1.8,3.2zM161.9,289.6h3.6l-1.8,3.2zM163.4,290.4h3.6l-1.8,3.2zM165.0,291.3h3.6l-1.8,3.2zM166.6,292.1h3.6l-1.8,3.2zM168.2,293.0h3.6l-1.8,3.2zM169.7,294.0h3.6l-1.8,3.2zM171.3,295.0h3.6l-1.8,3.2zM172.9,295.8h3.6l-1.8,3.2zM174.4,296.2h3.6l-1.8,3.2zM176.0,295.8h3.6l-1.8,3.2zM177.6,294.9h3.6l-1.8,3.2zM179.2,293.9h3.6l-1.8,3.2z" stroke="#c42420" stroke-width="1"/>
    <path d="M115.4,148.8 L115.9,148.8 L116.4,148.8 L116.9,148.8 L117.4,148.8 L117.9,148.8 L118.4,148.8 L118.9,148.8 L119.4,148.8 L119.9,148.8 L120.4,148.8 L120.9,148.8 L121.4,148.8 L121.9,148.8 L122.4,148.8 L122.9,148.8 L123.4,148.8 L123.9,148.8 L124.4,148.8 L124.9,148.8 L125.4,148.8 L125.9,148.8 L126.4,148.8 L126.9,148.8 L127.4,148.8 L127.9,148.8 L128.4,148.8 L128.9,148.8 L129.4,148.8 L129.9,148.8 L130.4,148.8 L130.9,148.8 L131.4,148.8 L131.9,148.8 L132.4,148.8 L132.9,148.8 L133.4,148.8 L133.9,148.8 L134.4,148.8 L134.9,148.8 L135.4,148.8 L135.9,148.8 L136.4,148.8 L136.9,148.8 L137.4,148.8 L137.9,148.8 L138.4,148.8 L138.9,148.8 L139.4,148.8 L139.9,148.8 L140.4,148.8 L140.9,148.8 L141.4,148.8 L141.9,148.8 L142.4,148.8 L142.9,148.8 L143.4,148.8 L143.9,148.8 L144.4,148.8 L144.9,148.8 L145.4,148.8 L145.9,148.8 L146.4,148.8 L146.9,148.8 L147.4,148.8 L147.9,148.8 L148.4,148.8 L148.9,148.8 L149.4,148.8 L149.9,148.8 L150.4,148.9 L150.9,149.8 L151.4,151.2 L151.9,152.7 L152.4,154.1 L152.9,155.6 L153.4,157.2 L153.9,158.5 L154.4,159.6 L154.9,160.7 L155.4,161.7 L155.9,162.6 L156.4,163.5 L156.9,164.3 L157.4,165.2 L157.9,166.0 L158.4,166.7 L158.9,167.5 L159.4,168.2 L159.9,168.9 L160.4,169.6 L160.9,170.3 L161.4,171.0 L161.9,171.7 L162.4,172.4 L162.9,173.1 L163.4,173.7 L163.9,174.3 L164.4,174.9 L164.9,175.5 L165.4,176.0 L165.9,176.5 L166.4,177.0 L166.9,177.5 L167.4,178.0 L167.9,178.4 L168.4,178.9 L168.9,179.3 L169.4,179.7 L169.9,180.0 L170.4,180.4 L170.9,180.8 L171.4,181.2 L171.9,181.6 L172.4,181.9 L172.9,182.2 L173.4,182.4 L173.9,182.6 L174.4,182.6 L174.9,182.5 L175.4,182.4 L175.9,182.1 L176.4,181.9 L176.9,181.5 L177.4,181.2 L177.9,180.8 L178.4,180.3 L178.9,179.7 L179.4,179.0 L179.9,178.2 L180.4,177.5 L180.9,176.7 L181.4,175.7 L181.9,174.7 L182.4,173.7 L182.9,172.9 L183.4,172.4 L183.9,172.3 L184.4,172.2 L184.9,172.1 L185.4,172.0 L185.9,172.0 L186.4,172.0 L186.9,172.1 L187.4,172.3 L187.9,172.6 L188.4,173.0 L188.9,173.5 L189.4,173.9 L189.9,174.4 L190.4,174.9 L190.9,175.4 L191.4,175.8 L191.9,176.1 L192.4,176.4 L192.9,176.6 L193.4,176.9 L193.9,177.1 L194.4,177.3 L194.9,177.6 L195.4,177.8 L195.9,178.0 L196.4,178.3 L196.9,178.6 L197.4,178.8 L197.9,179.1 L198.4,179.3 L198.9,179.6 L199.4,179.8 L199.9,180.1 L200.4,180.3 L200.9,180.6 L201.4,180.8 L201.9,181.1 L202.4,181.4 L202.9,181.7 L203.4,182.0 L203.9,182.4 L204.4,182.7 L204.9,183.0 L205.4,183.3 L205.9,183.5 L206.4,183.8 L206.9,183.9 L207.4,184.0 L207.9,184.1 L208.4,184.1 L208.9,184.0 L209.4,183.8 L209.9,183.6 L210.4,183.3 L210.9,183.0 L211.4,182.6 L211.9,182.2 L212.4,181.7 L212.9,180.9 L213.4,179.9 L213.9,178.6 L214.4,176.5 L214.9,173.7" stroke="#40309a" stroke-width="2"/>
    <path d="M213.8,178.9 L214.3,176.5 L214.8,174.0 L215.3,171.3 L215.8,168.3 L216.3,165.2 L216.8,162.0 L217.3,158.9 L217.8,156.5 L218.3,154.7 L218.8,153.2 L219.3,152.1 L219.8,151.5 L220.3,151.0 L220.8,150.7 L221.3,150.4 L221.8,150.4 L222.3,150.9 L222.8,151.8 L223.3,153.0 L223.8,154.4 L224.3,155.9 L224.8,158.0 L225.3,160.7 L225.8,164.5 L226.3,170.1 L226.8,175.0 L227.3,178.3 L227.8,181.2 L228.3,183.9 L228.8,186.5 L229.3,188.9 L229.8,191.0 L230.3,193.0" stroke="#6a50a8" stroke-width="1.1"/>
    <path d="M229.4,189.3 L229.9,191.8 L230.4,193.8 L230.9,194.8 L231.4,195.4 L231.9,195.8 L232.4,196.2 L232.9,196.5 L233.4,196.7 L233.9,197.0 L234.4,197.2 L234.9,197.5 L235.4,197.7 L235.9,197.8 L236.4,198.0 L236.9,198.2 L237.4,198.3 L237.9,198.5 L238.4,198.7 L238.9,198.9 L239.4,199.1 L239.9,199.4 L240.4,199.8 L240.9,200.1 L241.4,200.5 L241.9,200.9 L242.4,201.2 L242.9,201.6 L243.4,201.8 L243.9,202.1 L244.4,202.2 L244.9,202.3 L245.4,202.3 L245.9,202.3 L246.4,202.3 L246.9,202.3 L247.4,202.3 L247.9,202.3 L248.4,202.3 L248.9,202.4 L249.4,202.5 L249.9,202.6 L250.4,202.8 L250.9,203.0 L251.4,203.2 L251.9,203.5 L252.4,203.7 L252.9,204.0 L253.4,204.3 L253.9,204.6 L254.4,204.9 L254.9,205.2 L255.4,205.5 L255.9,205.8 L256.4,206.2 L256.9,206.6 L257.4,207.0 L257.9,207.5 L258.4,208.1 L258.9,208.6 L259.4,209.2 L259.9,209.8 L260.4,210.3 L260.9,210.9 L261.4,211.5 L261.9,212.1 L262.4,212.8 L262.9,213.5 L263.4,214.2 L263.9,214.9 L264.4,215.6 L264.9,216.4 L265.4,217.1 L265.9,218.0 L266.4,218.8 L266.9,219.7 L267.4,220.5 L267.9,221.4 L268.4,222.2 L268.9,223.1 L269.4,223.9 L269.9,224.8 L270.4,225.6 L270.9,226.5 L271.4,227.3 L271.9,228.1 L272.4,228.9 L272.9,229.7 L273.4,230.5 L273.9,231.3 L274.4,232.2 L274.9,232.9 L275.4,233.6 L275.9,234.3 L276.4,234.8 L276.9,235.3 L277.4,235.6 L277.9,236.0 L278.4,236.3 L278.9,236.6 L279.4,236.9 L279.9,237.2 L280.4,237.6 L280.9,238.0 L281.4,238.5 L281.9,239.1 L282.4,239.9 L282.9,240.8 L283.4,241.8" stroke="#40309a" stroke-width="2"/>
    <path d="M281.5,238.6 L282.0,238.9 L282.5,239.6 L283.0,240.7 L283.5,241.9 L284.0,243.8 L284.5,246.8 L285.0,250.2 L285.5,253.3 L286.0,256.4 L286.5,261.4 L287.0,268.1 L287.5,271.9 L288.0,274.2 L288.5,276.3 L289.0,278.8 L289.5,282.5 L290.0,286.5 L290.5,290.3 L291.0,294.2 L291.5,297.6 L292.0,300.0 L292.5,301.5 L293.0,302.6 L293.5,303.6 L294.0,304.5 L294.5,305.5 L295.0,306.8 L295.5,308.0 L296.0,309.4 L296.5,311.0 L297.0,313.2 L297.5,316.1 L298.0,319.4 L298.5,323.4 L299.0,328.4 L299.5,336.6 L300.0,342.1 L300.5,346.1 L301.0,349.6 L301.5,352.9 L302.0,355.6 L302.5,358.1 L303.0,360.3 L303.5,361.6 L304.0,362.4 L304.5,363.0 L305.0,363.5 L305.5,363.9 L306.0,364.0" stroke="#8a68b0" stroke-width="1"/>
    <path d="M356.0,364.0 L356.5,364.0 L357.0,364.0 L357.5,363.9 L358.0,363.9 L358.5,363.9 L359.0,363.8 L359.5,363.7 L360.0,363.6 L360.5,363.6 L361.0,363.4 L361.5,363.2 L362.0,362.8 L362.5,362.3 L363.0,361.7 L363.5,360.9 L364.0,360.1 L364.5,359.2 L365.0,358.3 L365.5,357.2 L366.0,355.7 L366.5,354.0 L367.0,352.0 L367.5,349.9 L368.0,347.6 L368.5,344.8 L369.0,341.5 L369.5,338.2 L370.0,335.0 L370.5,332.2 L371.0,329.4 L371.5,326.1 L372.0,322.4 L372.5,318.4 L373.0,314.4 L373.5,310.3 L374.0,306.1 L374.5,301.9 L375.0,297.7 L375.5,293.5 L376.0,289.3 L376.5,285.1 L377.0,281.0 L377.5,277.2 L378.0,273.5 L378.5,269.7 L379.0,265.4 L379.5,259.9 L380.0,254.0 L380.5,249.1 L381.0,246.2 L381.5,243.9 L382.0,242.2 L382.5,241.0 L383.0,240.2 L383.5,239.6 L384.0,239.4 L384.5,239.6 L385.0,240.0 L385.5,240.6 L386.0,241.3 L386.5,242.6 L387.0,244.3 L387.5,246.4 L388.0,248.9 L388.5,252.6 L389.0,257.1 L389.5,261.7 L390.0,266.2 L390.5,270.8 L391.0,275.5 L391.5,280.0 L392.0,284.5 L392.5,289.2 L393.0,294.3 L393.5,300.0 L394.0,305.5 L394.5,311.3 L395.0,318.8 L395.5,326.6 L396.0,331.9 L396.5,336.4 L397.0,340.4 L397.5,343.9 L398.0,346.9 L398.5,349.7 L399.0,352.2 L399.5,354.6 L400.0,356.7 L400.5,358.5 L401.0,359.7 L401.5,360.6 L402.0,361.5 L402.5,362.2 L403.0,362.8 L403.5,363.3 L404.0,363.5 L404.5,363.6 L405.0,363.7 L405.5,363.8 L406.0,363.9 L406.5,363.9 L407.0,364.0 L407.5,364.0 L408.0,364.0 L408.5,364.0 L409.0,364.0 L409.5,364.0 L410.0,364.0 L410.5,364.0 L411.0,364.0 L411.5,364.0 L412.0,364.0 L412.5,364.0 L413.0,364.0 L413.5,364.0 L414.0,364.0 L414.5,364.0 L415.0,364.0 L415.5,364.0 L416.0,364.0 L416.5,364.0 L417.0,364.0 L417.5,364.0 L418.0,364.0 L418.5,364.0 L419.0,364.0 L419.5,364.0 L420.0,364.0 L420.5,364.0 L421.0,364.0 L421.5,364.0 L422.0,364.0 L422.5,364.0 L423.0,364.0 L423.5,364.0 L424.0,364.0 L424.5,364.0 L425.0,364.0 L425.5,364.0 L426.0,364.0 L426.5,364.0 L427.0,364.0 L427.5,364.0 L428.0,364.0 L428.5,364.0 L429.0,364.0 L429.5,364.0 L430.0,364.0 L430.5,364.0 L431.0,364.0 L431.5,364.0 L432.0,364.0 L432.5,364.0 L433.0,364.0 L433.5,364.0 L434.0,364.0 L434.5,364.0 L435.0,364.0 L435.5,364.0 L436.0,364.0 L436.5,364.0 L437.0,364.0 L437.5,364.0 L438.0,364.0 L438.5,364.0 L439.0,364.0 L439.5,364.0 L440.0,364.0 L440.5,364.0 L441.0,364.0 L441.5,364.0 L442.0,364.0 L442.5,364.0 L443.0,364.0 L443.5,364.0 L444.0,364.0 L444.5,364.0 L445.0,364.0 L445.5,364.0 L446.0,364.0 L446.5,364.0 L447.0,364.0 L447.5,364.0 L448.0,364.0 L448.5,364.0 L449.0,364.0 L449.5,364.0 L450.0,364.0 L450.5,364.0 L451.0,364.0 L451.5,364.0 L452.0,364.0 L452.5,364.0 L453.0,364.0 L453.5,364.0 L454.0,364.0 L454.5,364.0 L455.0,364.0 L455.5,364.0 L456.0,364.0 L456.5,364.0 L457.0,364.0 L457.5,364.0 L458.0,364.0 L458.5,364.0 L459.0,364.0 L459.5,364.0 L460.0,364.0 L460.5,364.0 L461.0,364.0 L461.5,364.0 L462.0,364.0 L462.5,364.0 L463.0,364.0 L463.5,364.0 L464.0,364.0 L464.5,364.0 L465.0,364.0 L465.5,364.0 L466.0,364.0 L466.5,364.0 L467.0,364.0 L467.5,364.0 L468.0,364.0 L468.5,364.0 L469.0,364.0 L469.5,364.0 L470.0,364.0 L470.5,364.0 L471.0,364.0 L471.5,364.0 L472.0,364.0 L472.5,364.0 L473.0,364.0 L473.5,364.0 L474.0,364.0 L474.5,364.0 L475.0,364.0 L475.5,364.0 L476.0,364.0 L476.5,364.0 L477.0,364.0 L477.5,364.0 L478.0,364.0 L478.5,364.0 L479.0,364.0 L479.5,364.0 L480.0,364.0 L480.5,364.0 L481.0,364.0 L481.5,364.0 L482.0,364.0 L482.5,364.0 L483.0,364.0 L483.5,364.0 L484.0,364.0 L484.5,364.0 L485.0,364.0 L485.5,364.0 L486.0,364.0 L486.5,364.0 L487.0,364.0 L487.5,364.0 L488.0,364.0 L488.5,364.0 L489.0,364.0 L489.5,364.0 L490.0,364.0 L490.5,364.0 L491.0,364.0 L491.5,364.0 L492.0,364.0 L492.5,364.0 L493.0,364.0 L493.5,364.0 L494.0,364.0 L494.5,364.0 L495.0,364.0 L495.5,364.0 L496.0,364.0 L496.5,364.0 L497.0,364.0 L497.5,364.0 L498.0,364.0 L498.5,364.0 L499.0,364.0 L499.5,364.0 L500.0,364.0 L500.5,364.0 L501.0,364.0 L501.5,364.0 L502.0,364.0 L502.5,364.0 L503.0,364.0" stroke="#8a60b0" stroke-width="1"/>
    <path d="M113.6,150.4h3.6l-1.8,-3.2zM115.2,150.4h3.6l-1.8,-3.2zM116.7,150.4h3.6l-1.8,-3.2zM118.3,150.4h3.6l-1.8,-3.2zM119.9,150.4h3.6l-1.8,-3.2zM121.5,150.4h3.6l-1.8,-3.2zM123.0,150.4h3.6l-1.8,-3.2zM124.6,150.4h3.6l-1.8,-3.2zM126.2,150.4h3.6l-1.8,-3.2zM127.7,150.4h3.6l-1.8,-3.2zM129.3,150.4h3.6l-1.8,-3.2zM130.9,150.4h3.6l-1.8,-3.2zM132.4,150.4h3.6l-1.8,-3.2zM134.0,150.4h3.6l-1.8,-3.2zM135.6,150.4h3.6l-1.8,-3.2zM137.2,150.4h3.6l-1.8,-3.2zM138.7,150.4h3.6l-1.8,-3.2zM140.3,150.4h3.6l-1.8,-3.2zM141.9,150.4h3.6l-1.8,-3.2zM143.4,150.4h3.6l-1.8,-3.2zM145.0,150.4h3.6l-1.8,-3.2zM146.6,150.4h3.6l-1.8,-3.2zM148.1,150.4h3.6l-1.8,-3.2z" stroke="#3c2c8c" stroke-width="0.9"/>
    <path d="M149.7,153.2h3.6l-1.8,-3.2zM151.3,157.8h3.6l-1.8,-3.2zM152.9,161.8h3.6l-1.8,-3.2zM154.4,164.8h3.6l-1.8,-3.2zM156.0,167.4h3.6l-1.8,-3.2zM157.6,169.7h3.6l-1.8,-3.2zM159.1,172.0h3.6l-1.8,-3.2zM160.7,174.1h3.6l-1.8,-3.2zM162.3,176.1h3.6l-1.8,-3.2zM163.8,177.9h3.6l-1.8,-3.2zM165.4,179.4h3.6l-1.8,-3.2zM167.0,180.8h3.6l-1.8,-3.2zM168.6,182.0h3.6l-1.8,-3.2zM170.1,183.2h3.6l-1.8,-3.2zM171.7,184.1h3.6l-1.8,-3.2zM173.3,184.1h3.6l-1.8,-3.2zM174.8,183.3h3.6l-1.8,-3.2zM176.4,182.1h3.6l-1.8,-3.2zM178.0,180.0h3.6l-1.8,-3.2zM179.6,177.4h3.6l-1.8,-3.2zM181.1,174.5h3.6l-1.8,-3.2zM182.7,173.8h3.6l-1.8,-3.2zM184.3,173.6h3.6l-1.8,-3.2zM185.8,174.0h3.6l-1.8,-3.2zM187.4,175.4h3.6l-1.8,-3.2z" stroke="#3434b4" stroke-width="0.9"/>
    <path d="M189.0,176.9h3.6l-1.8,-3.2zM190.5,177.9h3.6l-1.8,-3.2zM192.1,178.7h3.6l-1.8,-3.2zM193.7,179.4h3.6l-1.8,-3.2zM195.3,180.2h3.6l-1.8,-3.2zM196.8,181.0h3.6l-1.8,-3.2zM198.4,181.8h3.6l-1.8,-3.2zM200.0,182.6h3.6l-1.8,-3.2zM201.5,183.6h3.6l-1.8,-3.2zM203.1,184.6h3.6l-1.8,-3.2zM204.7,185.4h3.6l-1.8,-3.2zM206.2,185.7h3.6l-1.8,-3.2zM207.8,185.3h3.6l-1.8,-3.2zM209.4,184.4h3.6l-1.8,-3.2zM211.0,182.7h3.6l-1.8,-3.2zM212.5,178.3h3.6l-1.8,-3.2zM214.1,169.3h3.6l-1.8,-3.2zM215.7,159.5h3.6l-1.8,-3.2zM217.2,154.2h3.6l-1.8,-3.2zM218.8,152.4h3.6l-1.8,-3.2zM220.4,152.4h3.6l-1.8,-3.2zM222.0,155.9h3.6l-1.8,-3.2zM223.5,162.5h3.6l-1.8,-3.2zM225.1,177.3h3.6l-1.8,-3.2zM226.7,186.3h3.6l-1.8,-3.2zM228.2,193.9h3.6l-1.8,-3.2zM229.8,197.2h3.6l-1.8,-3.2zM231.4,198.2h3.6l-1.8,-3.2zM232.9,199.0h3.6l-1.8,-3.2zM234.5,199.6h3.6l-1.8,-3.2zM236.1,200.1h3.6l-1.8,-3.2zM237.7,200.8h3.6l-1.8,-3.2zM239.2,201.8h3.6l-1.8,-3.2zM240.8,203.0h3.6l-1.8,-3.2zM242.4,203.8h3.6l-1.8,-3.2zM243.9,203.9h3.6l-1.8,-3.2zM245.5,203.9h3.6l-1.8,-3.2zM247.1,204.0h3.6l-1.8,-3.2zM248.6,204.4h3.6l-1.8,-3.2zM250.2,205.1h3.6l-1.8,-3.2zM251.8,206.0h3.6l-1.8,-3.2zM253.4,206.9h3.6l-1.8,-3.2zM254.9,208.0h3.6l-1.8,-3.2zM256.5,209.6h3.6l-1.8,-3.2zM258.1,211.3h3.6l-1.8,-3.2zM259.6,213.2h3.6l-1.8,-3.2zM261.2,215.2h3.6l-1.8,-3.2zM262.8,217.5h3.6l-1.8,-3.2zM264.3,220.0h3.6l-1.8,-3.2zM265.9,222.7h3.6l-1.8,-3.2zM267.5,225.3h3.6l-1.8,-3.2zM269.1,228.0h3.6l-1.8,-3.2zM270.6,230.5h3.6l-1.8,-3.2zM272.2,233.1h3.6l-1.8,-3.2zM273.8,235.5h3.6l-1.8,-3.2zM275.3,237.0h3.6l-1.8,-3.2zM276.9,238.1h3.6l-1.8,-3.2zM278.5,239.1h3.6l-1.8,-3.2zM280.1,240.6h3.6l-1.8,-3.2z" stroke="#40308a" stroke-width="0.9"/>
    <path d="M281.8,243.1h3.2l-1.6,-2.8zM283.4,251.6h3.2l-1.6,-2.8zM285.0,263.6h3.2l-1.6,-2.8zM286.5,276.2h3.2l-1.6,-2.8zM288.1,285.6h3.2l-1.6,-2.8zM289.7,297.6h3.2l-1.6,-2.8zM291.2,303.7h3.2l-1.6,-2.8zM292.8,306.7h3.2l-1.6,-2.8zM294.4,310.8h3.2l-1.6,-2.8zM296.0,317.8h3.2l-1.6,-2.8zM297.5,331.6h3.2l-1.6,-2.8zM299.1,348.9h3.2l-1.6,-2.8zM300.7,358.4h3.2l-1.6,-2.8zM302.2,363.5h3.2l-1.6,-2.8z" stroke="#5a4a78" stroke-width="0.9"/>
    <path d="M360.3,364.3h3.2l-1.6,-2.8zM361.9,362.3h3.2l-1.6,-2.8zM363.5,359.5h3.2l-1.6,-2.8zM365.0,354.8h3.2l-1.6,-2.8zM366.6,347.9h3.2l-1.6,-2.8zM368.2,337.7h3.2l-1.6,-2.8zM369.8,328.5h3.2l-1.6,-2.8zM371.3,316.3h3.2l-1.6,-2.8zM372.9,303.3h3.2l-1.6,-2.8zM374.5,290.1h3.2l-1.6,-2.8zM376.0,277.5h3.2l-1.6,-2.8zM377.6,264.6h3.2l-1.6,-2.8zM379.2,248.7h3.2l-1.6,-2.8zM380.8,242.7h3.2l-1.6,-2.8zM382.3,240.8h3.2l-1.6,-2.8zM383.9,242.0h3.2l-1.6,-2.8zM385.5,245.9h3.2l-1.6,-2.8zM387.0,255.1h3.2l-1.6,-2.8zM388.6,269.5h3.2l-1.6,-2.8zM390.2,283.9h3.2l-1.6,-2.8zM391.7,299.6h3.2l-1.6,-2.8zM393.3,318.8h3.2l-1.6,-2.8zM394.9,337.7h3.2l-1.6,-2.8zM396.5,348.7h3.2l-1.6,-2.8zM398.0,356.6h3.2l-1.6,-2.8zM399.6,361.5h3.2l-1.6,-2.8zM401.2,364.0h3.2l-1.6,-2.8z" stroke="#5a4a78" stroke-width="0.9"/>
  </g>
  <path d="M439.2,207.2 L441.0,204.2 L442.8,207.2Z" fill="none" stroke="#605878" stroke-width="0.9"/>
<path d="M435.7,215.5 L439.3,215.5 L437.5,218.5" fill="none" stroke="#6a5a70" stroke-width="0.9"/>
<path d="M432.2,269.3 L435.8,269.3 L434.0,272.0" fill="none" stroke="#c88090" stroke-width="0.9"/>
<path d="M439.5,298.0 L441.3,295.0 L443.1,298.0Z" fill="none" stroke="#605878" stroke-width="0.9"/>
<path d="M434.9,307.0 L436.7,304.0 L438.5,307.0Z" fill="none" stroke="#605878" stroke-width="0.9"/>
<path d="M436.2,327.5 L439.8,327.5 L438.0,330.5" fill="none" stroke="#6a5a70" stroke-width="0.9"/>
<path d="M439.9,344.5 L441.7,341.5 L443.5,344.5Z" fill="none" stroke="#605878" stroke-width="0.9"/>
<path d="M431.7,348.0 L433.5,345.0 L435.3,348.0Z" fill="none" stroke="#605878" stroke-width="0.9"/>
<path d="M440.7,359.8 L442.5,356.8 L444.3,359.8Z" fill="none" stroke="#605878" stroke-width="0.9"/>
<path d="M434.0,358.2 L437.6,358.2 L435.8,361.2" fill="none" stroke="#6a5a70" stroke-width="0.9"/>
<path d="M112.6,353.8 L116.2,353.8 L114.4,356.5" fill="none" stroke="#c88090" stroke-width="0.9"/>
<path d="M99.2,345.8 L102.8,345.8 L101.0,348.5" fill="none" stroke="#c88090" stroke-width="0.9"/>
  <g stroke="#3a2a30" stroke-width="1.5" fill="none">
    <line x1="100.5" y1="148" x2="100.5" y2="365"/>
    <line x1="100" y1="364.5" x2="503" y2="364.5"/>
  </g>
  <g stroke="#222" stroke-width="1.5" fill="none">
    <line x1="90" y1="149" x2="100" y2="149"/>
    <line x1="90" y1="203" x2="100" y2="203"/>
    <line x1="90" y1="257" x2="100" y2="257"/>
    <line x1="90" y1="310.5" x2="100" y2="310.5"/>
    <line x1="90" y1="364.5" x2="100" y2="364.5"/>
    <line x1="100.5" y1="364" x2="100.5" y2="371"/>
    <line x1="201" y1="364" x2="201" y2="371"/>
    <line x1="301.5" y1="364" x2="301.5" y2="371"/>
    <line x1="401" y1="364" x2="401" y2="371"/>
    <line x1="502.5" y1="364" x2="502.5" y2="371"/>
  </g>
  <line x1="303" y1="364.2" x2="503" y2="364.2" stroke="#3c2c9c" stroke-width="2"/>
  <line x1="100" y1="364.2" x2="118" y2="364.2" stroke="#2020c0" stroke-width="2.5"/>
  <line x1="228.6" y1="141" x2="228.6" y2="180" stroke="#999" stroke-width="1"/>
  <line x1="301.5" y1="280" x2="301.5" y2="304" stroke="#111" stroke-width="1.2"/>
  <line x1="407.6" y1="317" x2="407.6" y2="339" stroke="#444" stroke-width="1"/>
</svg>
<div class="a" style="left:43px;top:271.3px;font-size:16.4px;font-weight:normal;-webkit-text-stroke:0.6px #000;letter-spacing:0.75px;transform:rotate(-90deg);transform-origin:0 0;">Counts</div>
<div id="t_title" class="a" style="left:96.00px;top:23.26px;font-family:'Liberation Serif',serif;font-size:22.5px;font-weight:bold;font-style:italic;color:#8a1420;letter-spacing:0.138px;line-height:1">Real Spectra of Certified Implant</div>
<div id="t_sub" class="a hv" style="left:94.00px;top:51.48px;font-family:'Liberation Serif',serif;font-size:16.5px;font-weight:normal;font-style:normal;color:#7a1418;letter-spacing:0.423px;line-height:1">481(3).10<sup>18</sup>/cm<sup>2</sup> Sb implant in 90nm oxide/a-Si/c-Si</div>
<div id="t_beam1" class="a hv" style="transform:scaleX(1.1);transform-origin:0 0;left:309.00px;top:126.23px;font-family:'Liberation Sans',sans-serif;font-size:14.5px;font-weight:bold;font-style:normal;color:#111;letter-spacing:0.841px;line-height:1">1.5MeV <sup>4</sup>He<sup>+</sup></div>
<div id="t_beam2" class="a hv" style="transform:scaleX(1.1);transform-origin:0 0;left:309.00px;top:148.03px;font-family:'Liberation Sans',sans-serif;font-size:14.5px;font-weight:bold;font-style:normal;color:#111;letter-spacing:0.693px;line-height:1">150<sup>0</sup> &amp; 170<sup>0</sup> detectors</div>
<div id="t_s1" class="a hv" style="transform:scaleX(1.06);transform-origin:0 0;left:560.80px;top:167.82px;font-family:'Liberation Sans',sans-serif;font-size:12.5px;font-weight:bold;font-style:normal;color:#111;letter-spacing:0.546px;line-height:1">Counting statistics:</div>
<div id="t_s2" class="a hv" style="transform:scaleX(1.22);transform-origin:0 0;left:560.80px;top:184.32px;font-family:'Liberation Sans',sans-serif;font-size:12.5px;font-weight:bold;font-style:normal;color:#111;letter-spacing:0.691px;line-height:1">0.05%</div>
<div id="t_s3" class="a hv" style="transform:scaleX(1.06);transform-origin:0 0;left:560.80px;top:209.62px;font-family:'Liberation Sans',sans-serif;font-size:12.5px;font-weight:bold;font-style:normal;color:#111;letter-spacing:0.702px;line-height:1">Gain uncertainty:</div>
<div id="t_s4" class="a hv" style="transform:scaleX(1.22);transform-origin:0 0;left:560.80px;top:226.12px;font-family:'Liberation Sans',sans-serif;font-size:12.5px;font-weight:bold;font-style:normal;color:#111;letter-spacing:0.662px;line-height:1">0.3%</div>
<div id="t_s5" class="a hv" style="transform:scaleX(1.06);transform-origin:0 0;left:560.80px;top:276.52px;font-family:'Liberation Sans',sans-serif;font-size:12.5px;font-weight:bold;font-style:normal;color:#111;letter-spacing:0.870px;line-height:1">Total experimental</div>
<div id="t_s6" class="a hv" style="transform:scaleX(1.06);transform-origin:0 0;left:559.80px;top:294.12px;font-family:'Liberation Sans',sans-serif;font-size:12.5px;font-weight:bold;font-style:normal;color:#111;letter-spacing:0.883px;line-height:1">uncertainty</div>
<div id="t_s7" class="a hv" style="transform:scaleX(1.06);transform-origin:0 0;left:560.80px;top:310.92px;font-family:'Liberation Sans',sans-serif;font-size:12.5px;font-weight:bold;font-style:normal;color:#111;letter-spacing:0.775px;line-height:1">(excluding stopping):</div>
<div id="t_s8" class="a hv" style="transform:scaleX(1.22);transform-origin:0 0;left:560.80px;top:327.62px;font-family:'Liberation Sans',sans-serif;font-size:12.5px;font-weight:bold;font-style:normal;color:#111;letter-spacing:0.662px;line-height:1">0.8%</div>
<div id="t_c1" class="a hv" style="left:41.60px;top:407.12px;font-family:'Liberation Sans',sans-serif;font-size:12.5px;font-weight:bold;font-style:normal;color:#111;letter-spacing:0.010px;line-height:1">Certified Sb Implanted sample:</div>
<div id="t_c2" class="a hv" style="left:41.60px;top:423.32px;font-family:'Liberation Sans',sans-serif;font-size:12.5px;font-weight:bold;font-style:normal;color:#111;letter-spacing:0.200px;line-height:1">K. H. Ecker, U. W&auml;tjen, A. Berger, L. Persson, W. Pritzcow, M. Radtke, H. Riesemeier, NIM B188 (2002) 120</div>
<div id="t_f1" class="a hv" style="left:137.40px;top:456.73px;font-family:'Liberation Sans',sans-serif;font-size:16.5px;font-weight:bold;font-style:normal;color:#111;letter-spacing:0.195px;line-height:1">Sb fluence determined using SRIM 2003 stopping:</div>
<div id="t_f2" class="a hv" style="transform:scaleX(1.08);transform-origin:0 0;left:137.40px;top:474.73px;font-family:'Liberation Sans',sans-serif;font-size:16.5px;font-weight:bold;font-style:normal;color:#111;letter-spacing:0.513px;line-height:1">481.15(55).10<sup>13</sup>/cm<sup>2</sup> (0.1%)</div>
<div id="t_iba" class="a" style="left:100.40px;top:518.37px;font-family:'Liberation Serif',serif;font-size:19.5px;font-weight:normal;font-style:normal;color:#111;letter-spacing:0.009px;line-height:1">IBA IV:&nbsp; IAEA Intercomparison</div>
<div id="t_url" class="a" style="left:526.40px;top:508.96px;font-family:'Liberation Sans',sans-serif;font-size:18px;font-weight:normal;font-style:normal;color:#3a6496;letter-spacing:0.712px;line-height:1">www.surreyibc.ac.uk</div>
<div id="t_univ" class="a" style="left:599.00px;top:21.39px;font-family:'Liberation Sans',sans-serif;font-size:11px;font-weight:normal;font-style:normal;color:#1e3660;letter-spacing:1.678px;line-height:1">UNIVERSITY OF</div>
<div id="t_surrey" class="a hv" style="left:598.40px;top:29.79px;font-family:'Liberation Sans',sans-serif;font-size:26px;font-weight:normal;font-style:normal;color:#1e3660;letter-spacing:-0.660px;line-height:1">SURREY</div>
<div id="t_ibc" class="a" style="left:574.80px;top:60.96px;font-family:'Liberation Serif',serif;font-size:14.5px;font-weight:normal;font-style:normal;color:#3a5c8c;letter-spacing:1.572px;line-height:1">Ion Beam Centre</div>
<div id="l_320" class="a hv" style="left:33.20px;top:140.56px;font-family:'Liberation Sans',sans-serif;font-size:16px;font-weight:normal;font-style:normal;color:#000;letter-spacing:0.360px;line-height:1">320000</div>
<div id="l_channel" class="a" style="left:267.00px;top:372.39px;font-family:'Liberation Sans',sans-serif;font-size:16.2px;font-weight:bold;font-style:normal;color:#000;letter-spacing:0.333px;line-height:1">Channel</div>
<div id="l_512" class="a" style="left:478.00px;top:372.39px;font-family:'Liberation Sans',sans-serif;font-size:16.2px;font-weight:bold;font-style:normal;color:#000;letter-spacing:0.250px;line-height:1">512</div>
<div id="l_0a" class="a hv" style="left:81.00px;top:358.63px;font-family:'Liberation Sans',sans-serif;font-size:14.5px;font-weight:normal;font-style:normal;color:#000;letter-spacing:0.000px;line-height:1">0</div>
<div id="l_0b" class="a hv" style="left:96.00px;top:373.63px;font-family:'Liberation Sans',sans-serif;font-size:14.5px;font-weight:normal;font-style:normal;color:#000;letter-spacing:0.000px;line-height:1">0</div>
<div id="l_O" class="a" style="left:224.60px;top:124.12px;font-family:'Liberation Sans',sans-serif;font-size:12.5px;font-weight:bold;font-style:normal;color:#000;letter-spacing:0.000px;line-height:1">O</div>
<div id="l_Si" class="a" style="left:292.00px;top:254.47px;font-family:'Liberation Sans',sans-serif;font-size:13.5px;font-weight:bold;font-style:normal;color:#000;letter-spacing:1.000px;line-height:1">Si</div>
<div id="l_Sb" class="a" style="left:400.00px;top:277.77px;font-family:'Liberation Sans',sans-serif;font-size:13.5px;font-weight:bold;font-style:normal;color:#000;letter-spacing:-0.300px;line-height:1">Sb</div>

<!-- IAEA logo -->
<svg class="a" style="left:7px;top:453px" width="91" height="83" viewBox="0 0 91 83">
  <rect width="91" height="83" fill="#27a6ec"/>
  <g fill="none" stroke="#fff" stroke-width="1.3">
    <ellipse cx="45" cy="26.5" rx="8" ry="21" transform="rotate(12 45 26.5)"/>
    <ellipse cx="43.5" cy="30" rx="14" ry="7" transform="rotate(-5 43.5 30)"/>
    <ellipse cx="45" cy="31" rx="6.5" ry="16" transform="rotate(-35 45 31)"/>
    <circle cx="44.5" cy="31" r="1.8" fill="#fff"/>
  </g>
  <g fill="none" stroke="#fff" stroke-linecap="round">
    <path d="M24.6,10.4 L23.9,7.1 M24.6,10.4 L28.0,10.3 M22.4,13.2 L21.4,9.9 M22.4,13.2 L25.8,12.8 M20.6,16.3 L19.2,13.2 M20.6,16.3 L23.9,15.4 M19.4,19.7 L17.5,16.9 M19.4,19.7 L22.5,18.2 M18.7,23.3 L16.3,20.9 M18.7,23.3 L21.5,21.4 M18.6,27.2 L15.9,25.1 M18.6,27.2 L21.1,24.8 M19.1,31.2 L16.1,29.6 M19.1,31.2 L21.2,28.5 M20.4,35.4 L17.2,34.3 M20.4,35.4 L22.0,32.4 M22.4,39.6 L19.0,39.0 M22.4,39.6 L23.6,36.4 M25.2,43.9 L21.8,43.7 M25.2,43.9 L25.9,40.5 M28.8,48.1 L25.4,48.2 M28.8,48.1 L29.4,44.8 M66.4,10.4 L67.1,7.1 M66.4,10.4 L63.0,10.3 M68.6,13.2 L69.6,9.9 M68.6,13.2 L65.2,12.8 M70.4,16.3 L71.8,13.2 M70.4,16.3 L67.1,15.4 M71.6,19.7 L73.5,16.9 M71.6,19.7 L68.5,18.2 M72.3,23.3 L74.7,20.9 M72.3,23.3 L69.5,21.4 M72.4,27.2 L75.1,25.1 M72.4,27.2 L69.9,24.8 M71.9,31.2 L74.9,29.6 M71.9,31.2 L69.8,28.5 M70.6,35.4 L73.8,34.3 M70.6,35.4 L69.0,32.4 M68.6,39.6 L72.0,39.0 M68.6,39.6 L67.4,36.4 M65.8,43.9 L69.2,43.7 M65.8,43.9 L65.1,40.5 M62.2,48.1 L65.6,48.2 M62.2,48.1 L61.6,44.8" stroke-width="1.3"/>
    <path d="M26,9 C16,18 14,36 33,52 M65,9 C75,18 77,36 58,52" stroke-width="1"/>
    <path d="M33,50 L58,58 M58,50 L33,58 M36,54 L55,54" stroke-width="1.4"/>
  </g>
  <g fill="#fff" font-family="Liberation Sans" font-weight="bold" text-anchor="middle">
    <text x="45.8" y="70.5" font-size="6.6" textLength="74" lengthAdjust="spacingAndGlyphs">International Atomic</text>
    <text x="45.4" y="78" font-size="6.6" textLength="52" lengthAdjust="spacingAndGlyphs">Energy Agency</text>
  </g>
</svg>
</body></html>
